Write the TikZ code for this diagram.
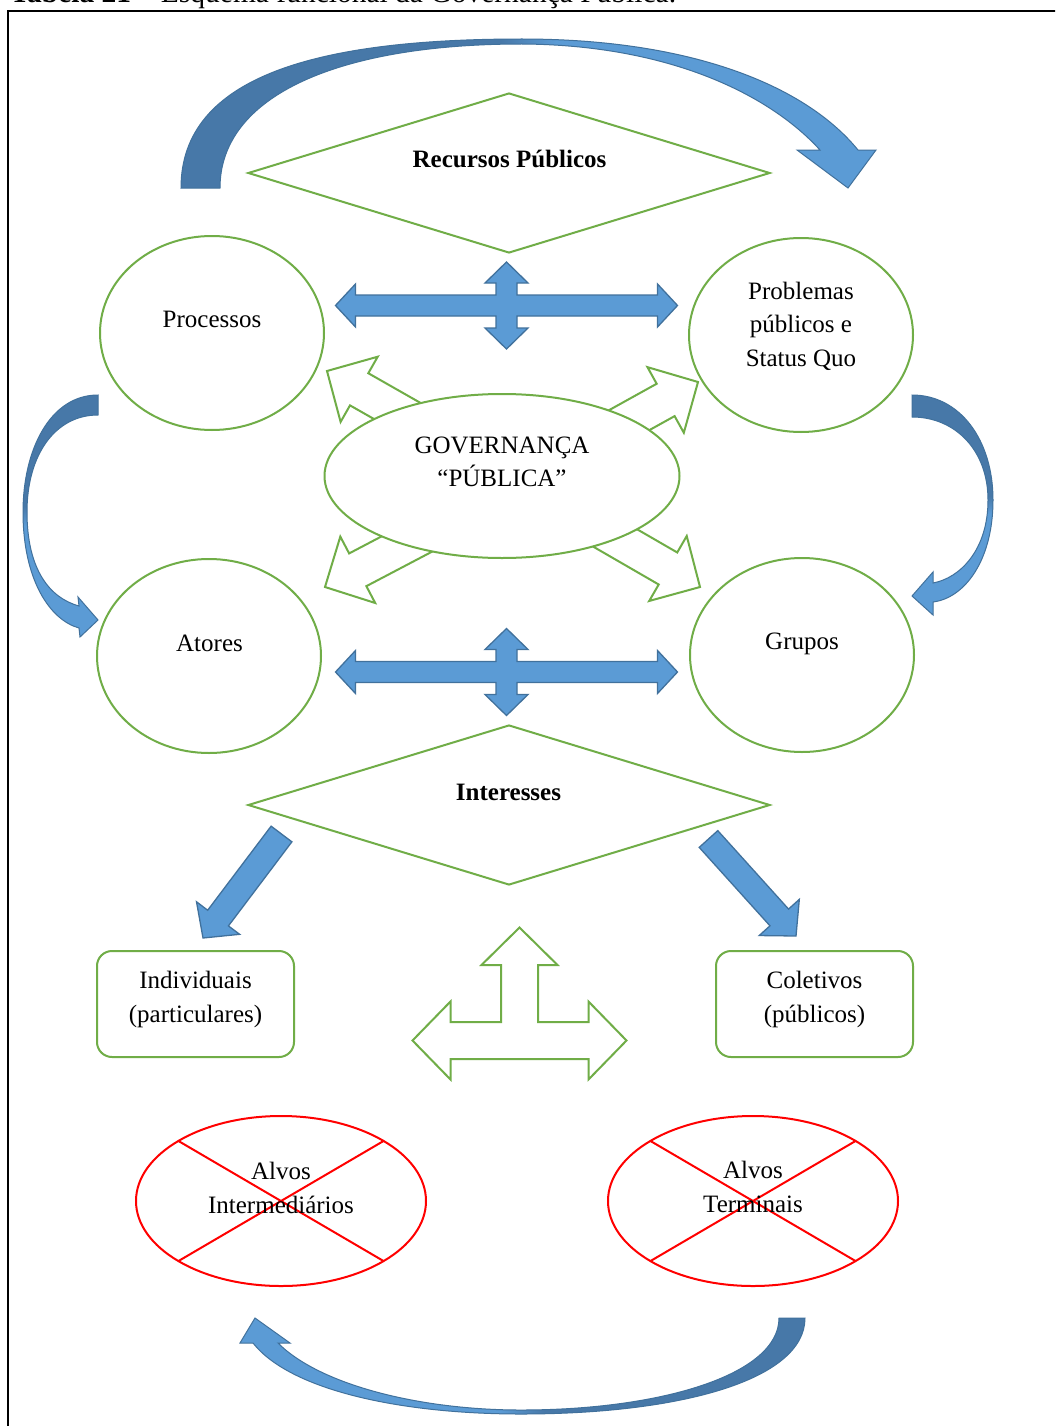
\documentclass[tikz,border=0pt]{standalone}
\usepackage{fontspec}
\setmainfont{Liberation Serif}
\usetikzlibrary{shapes.geometric,calc}

\definecolor{leafgreen}{HTML}{70AD47}
\definecolor{skyfill}{HTML}{5B9BD5}
\definecolor{skyedge}{HTML}{41719C}
\definecolor{arcdark}{RGB}{71,120,168}
\definecolor{arclight}{HTML}{5B9BD5}
\definecolor{crossred}{HTML}{FF0000}

% two-tone fills for the curved arrows
\pgfdeclarehorizontalshading{darkleft}{100bp}{color(0bp)=(arcdark); color(48bp)=(arcdark); color(52bp)=(arclight); color(100bp)=(arclight)}
\pgfdeclarehorizontalshading{darkright}{100bp}{color(0bp)=(arclight); color(48bp)=(arclight); color(52bp)=(arcdark); color(100bp)=(arcdark)}
\pgfdeclareverticalshading{darktop}{100bp}{color(0bp)=(arclight); color(48bp)=(arclight); color(52bp)=(arcdark); color(100bp)=(arcdark)}

% straight block arrow: style, tail, tip, shaft half width, head half width, head length
\newcommand\blockarrow[6]{%
  \coordinate (ba-h) at ($(#3)!#6!(#2)$);
  \draw[#1] ($(#2)!#4!90:(#3)$) -- ($(ba-h)!#4!-90:(#2)$) -- ($(ba-h)!#5!-90:(#2)$)
    -- (#3) -- ($(ba-h)!#5!90:(#2)$) -- ($(ba-h)!#4!90:(#2)$) -- ($(#2)!#4!-90:(#3)$) -- cycle;
}

\tikzset{
  bluebody/.style={fill=skyfill, draw=skyedge, line width=1.3pt, line join=miter},
  arcbody/.style={shade, draw=skyedge, line width=1pt},
  greenarrow/.style={fill=white, draw=leafgreen, line width=2pt, line join=miter},
  bubble/.style={ellipse, draw=leafgreen, line width=2pt, fill=white, inner sep=0,
    minimum width=224pt, minimum height=194pt},
  rhombus/.style={diamond, draw=leafgreen, line width=2pt, fill=white, inner sep=0,
    minimum width=522pt, minimum height=160pt},
  tagbox/.style={draw=leafgreen, line width=2pt, rounded corners=15pt, inner sep=0,
    minimum width=197pt, minimum height=106pt},
  target/.style={ellipse, draw=crossred, line width=2pt, inner sep=0,
    minimum width=290pt, minimum height=170pt},
  cross/.style={draw=crossred, line width=2pt},
  % base anchor of a multi-line label is the baseline of its last line
  lbl/.style={inner sep=0, align=center, anchor=base, font=\fontsize{25}{33.5}\selectfont},
  quadarrow/.pic={
    \draw[bluebody] (-171,0) -- (-151,-21.5) -- (-151,-10.5) -- (-10.5,-10.5) -- (-10.5,-22.5)
      -- (-21.5,-22.5) -- (0,-43.5) -- (21.5,-22.5) -- (10.5,-22.5) -- (10.5,-10.5)
      -- (151,-10.5) -- (151,-21.5) -- (171,0) -- (151,21.5) -- (151,10.5) -- (10.5,10.5)
      -- (10.5,22.5) -- (21.5,22.5) -- (0,43.5) -- (-21.5,22.5) -- (-10.5,22.5)
      -- (-10.5,10.5) -- (-151,10.5) -- (-151,21.5) -- cycle;
  },
  tarrow/.pic={
    \draw[greenarrow] (-107,0) -- (-69,-39) -- (-69,-18.5) -- (-18.5,-18.5) -- (-18.5,-75.5)
      -- (-38,-75.5) -- (0,-113) -- (38,-75.5) -- (18.5,-75.5) -- (18.5,-18.5) -- (69,-18.5)
      -- (69,-39) -- (107,0) -- (69,39) -- (69,18.5) -- (-69,18.5) -- (-69,39) -- cycle;
  }
}

\begin{document}
\begin{tikzpicture}[x=1pt, y=-1pt]
\useasboundingbox (0,0) rectangle (1055,1426);
\clip (0,0) rectangle (1055,1426);
\fill[white] (0,0) rectangle (1055,1426);

% caption and frame
\node[anchor=base west, inner sep=0, font=\fontsize{29.5}{30}\selectfont] (caption) at (10,3)
  {\textbf{Tabela 21 –} Esquema funcional da Governança Pública.};
\draw[line width=1.5pt] (8,1440) -- (8,11) -- (1070,11);

% curved arrows
\path[arcbody, shading=darkleft] (181,188) .. controls (181,75) and (320,39) .. (522,39)
  .. controls (690,39) and (805,85) .. (858,150) -- (876,150) -- (848,188) -- (797,150)
  -- (820,150) .. controls (770,95) and (670,45) .. (522,44)
  .. controls (340,44) and (220,95) .. (220,188) -- cycle;
\path[arcbody, shading=darktop] (98,395) .. controls (50,395) and (23,450) .. (23,512)
  .. controls (23,580) and (50,620) .. (79,628) -- (80,637) -- (98,620) -- (78,597)
  -- (79,606) .. controls (50,598) and (27,570) .. (27,512)
  .. controls (27,455) and (55,415) .. (98,415) -- cycle;
\path[arcbody, shading=darktop] (912,395) .. controls (960,395) and (993,440) .. (993,500)
  .. controls (993,560) and (965,598) .. (933,602) -- (933,615) -- (912,596) -- (933,572)
  -- (933,583) .. controls (960,578) and (988,550) .. (988,500)
  .. controls (988,450) and (955,417) .. (912,417) -- cycle;
\path[arcbody, shading=darkright] (805,1318) .. controls (805,1380) and (680,1414) .. (521,1414)
  .. controls (400,1414) and (290,1390) .. (253,1343) -- (240,1343) -- (255,1318)
  -- (290,1343) -- (278,1343) .. controls (320,1385) and (420,1410) .. (521,1410)
  .. controls (660,1410) and (779,1375) .. (779,1318) -- cycle;

% diamonds
\node[rhombus] (recursos) at (509,173) {};
\node[lbl, font=\fontsize{25}{33.5}\selectfont\bfseries] (recursos-t) at (509.5,167.5) {Recursos Públicos};
\node[rhombus] (interesses) at (509,805) {};
\node[lbl, font=\fontsize{25}{33.5}\selectfont\bfseries] (interesses-t) at (508.5,800) {Interesses};

% the four outer circles
\node[bubble] (processos) at (212,333) {};
\node[lbl] (processos-t) at (212,327) {Processos};
\node[bubble] (problemas) at (801,335) {};
\node[lbl] (problemas-t) at (801,366) {Problemas\\públicos e\\Status Quo};
\node[bubble] (atores) at (209,656) {};
\node[lbl] (atores-t) at (209.5,651) {Atores};
\node[bubble] (grupos) at (802,655) {};
\node[lbl] (grupos-t) at (802,649) {Grupos};

% outline arrows radiating from the centre
\blockarrow{greenarrow}{501,470}{327,371}{18.5pt}{37.5pt}{37pt}
\blockarrow{greenarrow}{523,479}{698,382}{18.5pt}{37.5pt}{37pt}
\blockarrow{greenarrow}{502,494}{325,587}{18.5pt}{37.5pt}{37pt}
\blockarrow{greenarrow}{527,487}{700,587}{18.5pt}{37.5pt}{37pt}

\node[ellipse, draw=leafgreen, line width=2pt, fill=white, inner sep=0,
  minimum width=355pt, minimum height=164pt] (gov) at (502,476) {};
\node[lbl] (gov-t) at (502,486.7) {GOVERNANÇA\\“PÚBLICA”};

% four-way arrows between the circles
\pic (upper-cross) at (506.5,305.5) {quadarrow};
\pic (lower-cross) at (506.5,672) {quadarrow};

% arrows from Interesses
\blockarrow{bluebody}{281.5,834}{203,938}{13pt}{27pt}{25pt}
\blockarrow{bluebody}{708.5,839}{796,936}{12.5pt}{27pt}{25pt}

% interest boxes and the three-way arrow
\node[tagbox] (individuais) at (195.5,1004) {};
\node[lbl] (individuais-t) at (195.5,1022) {Individuais\\(particulares)};
\node[tagbox] (coletivos) at (814.5,1004) {};
\node[lbl] (coletivos-t) at (814.5,1022) {Coletivos\\(públicos)};
\pic (three-way) at (519.5,1040.5) {tarrow};

% crossed-out targets
\node[target] (intermediarios) at (281,1201) {};
\draw[cross] ($(intermediarios.center)+(-102.5,-60)$) -- ($(intermediarios.center)+(102.5,60)$);
\draw[cross] ($(intermediarios.center)+(102.5,-60)$) -- ($(intermediarios.center)+(-102.5,60)$);
\node[lbl] (intermediarios-t) at (281,1213) {Alvos\\Intermediários};
\node[target] (terminais) at (753,1201) {};
\draw[cross] ($(terminais.center)+(-102.5,-60)$) -- ($(terminais.center)+(102.5,60)$);
\draw[cross] ($(terminais.center)+(102.5,-60)$) -- ($(terminais.center)+(-102.5,60)$);
\node[lbl] (terminais-t) at (753,1212) {Alvos\\Terminais};
\end{tikzpicture}
\end{document}
